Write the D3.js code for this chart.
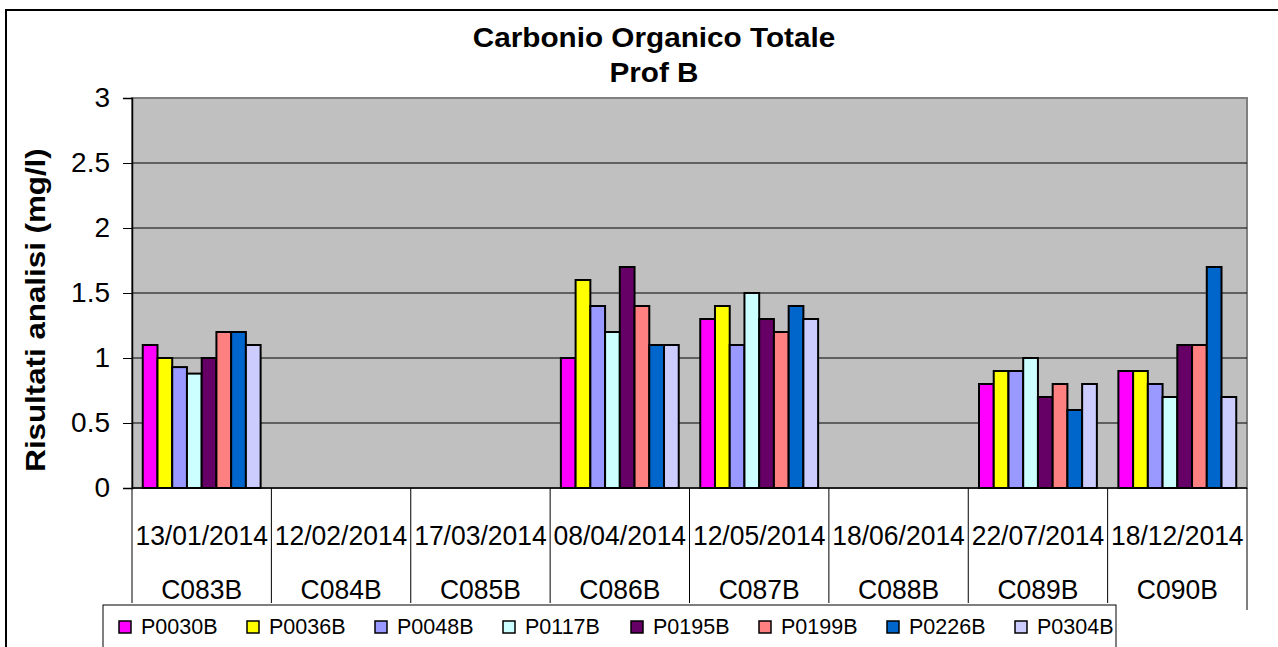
<!DOCTYPE html>
<html>
<head>
<meta charset="utf-8">
<script src="https://cdn.jsdelivr.net/npm/d3@7"></script>
<style>
  body { margin: 0; background: #fff; }
  text { font-family: "Liberation Sans", Arial, sans-serif; fill: #000; }
</style>
</head>
<body>
<svg width="1278" height="647"></svg>
<script>
const dates = ["13/01/2014", "12/02/2014", "17/03/2014", "08/04/2014", "12/05/2014", "18/06/2014", "22/07/2014", "18/12/2014"]
const campaigns = ["C083B", "C084B", "C085B", "C086B", "C087B", "C088B", "C089B", "C090B"]
const wells = ["P0030B", "P0036B", "P0048B", "P0117B", "P0195B", "P0199B", "P0226B", "P0304B"]
const colors = ["#ff00ff", "#ffff00", "#9999ff", "#ccffff", "#660066", "#ff8080", "#0066cc", "#ccccff"]

// one row per well, one value per campaign (null = no sample)
const P0030B = [1.1, null, null, 1.0, 1.3, null, 0.8, 0.9]
const P0036B = [1.0, null, null, 1.6, 1.4, null, 0.9, 0.9]
const P0048B = [0.93, null, null, 1.4, 1.1, null, 0.9, 0.8]
const P0117B = [0.88, null, null, 1.2, 1.5, null, 1.0, 0.7]
const P0195B = [1.0, null, null, 1.7, 1.3, null, 0.7, 1.1]
const P0199B = [1.2, null, null, 1.4, 1.2, null, 0.8, 1.1]
const P0226B = [1.2, null, null, 1.1, 1.4, null, 0.6, 1.7]
const P0304B = [1.1, null, null, 1.1, 1.3, null, 0.8, 0.7]
const series = [P0030B, P0036B, P0048B, P0117B, P0195B, P0199B, P0226B, P0304B]
const yTicks = [0, 0.5, 1, 1.5, 2, 2.5, 3]

const svg = d3.select("svg")

// outer chart frame
svg.append("rect")
  .attr("x", 6).attr("y", 10)
  .attr("width", 1290).attr("height", 660)
  .style("fill", "#fff").style("stroke", "#000").style("stroke-width", 2)

const plot = { left: 132, right: 1247, top: 98, bottom: 488 }

const x0 = d3.scaleBand()
  .domain(campaigns)
  .range([plot.left, plot.right])
  .padding(0)

const x1 = d3.scaleBand()
  .domain(wells)
  .range([0, x0.bandwidth()])
  .paddingInner(0)
  .paddingOuter(0.73)

const y = d3.scaleLinear()
  .domain([0, 3])
  .range([plot.bottom, plot.top])

// plot background
svg.append("rect")
  .attr("x", plot.left).attr("y", plot.top)
  .attr("width", plot.right - plot.left).attr("height", plot.bottom - plot.top)
  .style("fill", "#c0c0c0").style("stroke", "#808080").style("stroke-width", 2)

// gridlines
svg.append("g")
  .selectAll("line")
  .data(yTicks.filter(d => d > 0 && d < 3))
  .enter()
  .append("line")
    .attr("x1", plot.left).attr("x2", plot.right)
    .attr("y1", d => y(d)).attr("y2", d => y(d))
    .style("stroke", "#000").style("stroke-width", 1)

// bars
const groups = svg.append("g")
  .selectAll("g")
  .data(campaigns)
  .enter()
  .append("g")
    .attr("transform", d => `translate(${x0(d)},0)`)

groups.selectAll("rect")
  .data((c, ci) => wells.map((w, wi) => ({ well: w, value: series[wi][ci], color: colors[wi] })).filter(d => d.value != null))
  .enter()
  .append("rect")
    .attr("x", d => x1(d.well))
    .attr("width", x1.bandwidth())
    .attr("y", d => y(d.value))
    .attr("height", d => y(0) - y(d.value))
    .style("fill", d => d.color)
    .style("stroke", "#000")
    .style("stroke-width", 2)

// y axis
const yAxis = svg.append("g")
  .attr("transform", `translate(${plot.left},0)`)
  .call(d3.axisLeft(y).tickValues(yTicks).tickSize(9).tickPadding(13).tickFormat(d3.format("")))
yAxis.select(".domain").style("stroke", "#000").style("stroke-width", 1.5)
yAxis.selectAll(".tick line").style("stroke", "#000")
yAxis.selectAll("text")
  .style("font-size", "28px")
  .style("font-family", "'Liberation Sans', Arial, sans-serif")
  .attr("fill", "#000")

// x axis line
svg.append("line")
  .attr("x1", plot.left).attr("x2", plot.right)
  .attr("y1", plot.bottom).attr("y2", plot.bottom)
  .style("stroke", "#000").style("stroke-width", 1.5)

// category separators
const bounds = campaigns.map(c => x0(c)).concat([plot.right])
svg.append("g")
  .selectAll("line")
  .data(bounds)
  .enter()
  .append("line")
    .attr("x1", d => d).attr("x2", d => d)
    .attr("y1", plot.bottom)
    .attr("y2", (d, i) => i === bounds.length - 1 ? 610 : 603)
    .style("stroke", "#000").style("stroke-width", 1)

// two-level category labels
svg.append("g")
  .selectAll("text")
  .data(dates)
  .enter()
  .append("text")
    .attr("transform", (d, i) => `translate(${x0(campaigns[i]) + x0.bandwidth() / 2},545) scale(1,1.06)`)
    .attr("text-anchor", "middle")
    .style("font-size", "26.5px")
    .text(d => d)

svg.append("g")
  .selectAll("text")
  .data(campaigns)
  .enter()
  .append("text")
    .attr("transform", d => `translate(${x0(d) + x0.bandwidth() / 2},599) scale(1,1.06)`)
    .attr("text-anchor", "middle")
    .style("font-size", "26.5px")
    .text(d => d)

// title
const title = svg.append("g").attr("transform", "translate(654,0)")
title.append("text")
  .attr("transform", "translate(0,47) scale(1.1,1)")
  .attr("text-anchor", "middle")
  .style("font-size", "27px").style("font-weight", "bold")
  .text("Carbonio Organico Totale")
title.append("text")
  .attr("transform", "translate(0,82) scale(1.1,1)")
  .attr("text-anchor", "middle")
  .style("font-size", "27px").style("font-weight", "bold")
  .text("Prof B")

// y axis title
svg.append("text")
  .attr("transform", "translate(45,310) rotate(-90) scale(1.16,1)")
  .attr("text-anchor", "middle")
  .style("font-size", "27px").style("font-weight", "bold")
  .text("Risultati analisi (mg/l)")

// legend
const legend = svg.append("g")
legend.append("rect")
  .attr("x", 103).attr("y", 605)
  .attr("width", 1013).attr("height", 60)
  .style("fill", "#fff").style("stroke", "#000").style("stroke-width", 1)

const legendItem = legend.selectAll("g.item")
  .data(wells)
  .enter()
  .append("g")
    .attr("class", "item")
    .attr("transform", (d, i) => `translate(${119 + i * 128},621)`)

legendItem.append("rect")
  .attr("width", 12).attr("height", 12)
  .style("fill", (d, i) => colors[i])
  .style("stroke", "#000").style("stroke-width", 1.5)

legendItem.append("text")
  .attr("x", 22).attr("y", 13)
  .style("font-size", "21.5px")
  .text(d => d)
</script>
</body>
</html>
